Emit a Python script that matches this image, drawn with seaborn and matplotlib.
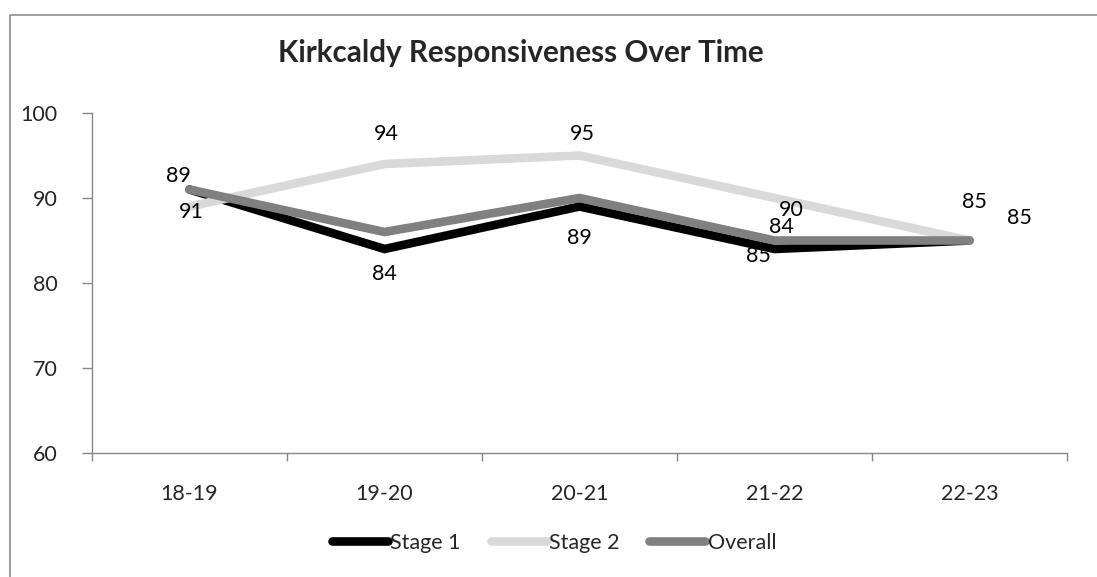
import numpy as np
import pandas as pd
import seaborn as sns
import matplotlib.pyplot as plt
from matplotlib.lines import Line2D

# data
years = ["18-19", "19-20", "20-21", "21-22", "22-23"]
stage1 = [91, 84, 89, 84, 85]
stage2 = [89, 94, 95, 90, 85]
overall = [91, 86, 90, 85, 85]
yticks = [60, 70, 80, 90, 100]

df = pd.DataFrame({"year": years, "Stage 1": stage1, "Stage 2": stage2, "Overall": overall})
long = df.melt(id_vars="year", var_name="series", value_name="score")
long["x"] = long["year"].map({y: i for i, y in enumerate(years)})

colors = {"Stage 1": "#000000", "Stage 2": "#d9d9d9", "Overall": "#808080"}

sns.set_style("white")
plt.rcParams["font.family"] = ["Lato", "DejaVu Sans"]

W, H = 1097, 577
fig = plt.figure(figsize=(W / 100, H / 100), dpi=100)
ax = fig.add_axes([92 / W, 1 - 453 / H, (1067 - 92) / W, (453 - 113) / H])

sns.lineplot(data=long, x="x", y="score", hue="series", palette=colors,
             hue_order=["Stage 1", "Stage 2", "Overall"], linewidth=6.2,
             legend=False, ax=ax, solid_capstyle="round", solid_joinstyle="miter")

# data labels (series, index, pixel offset) roughly where Excel put them
labels = [
    ("Stage 2", 0, -11, 30), ("Stage 1", 0, 2, -23),
    ("Stage 2", 1, 2, 30), ("Stage 1", 1, 0, -25),
    ("Stage 2", 2, 3, 22), ("Stage 1", 2, 0, -31),
    ("Stage 2", 3, 17, -12), ("Stage 1", 3, 7, 22), ("Overall", 3, -16, -15),
    ("Stage 2", 4, 5, 38), ("Stage 1", 4, 50, 23),
]
for s, i, dx, dy in labels:
    v = df[s][i]
    ax.annotate(str(v), (i, v), xytext=(dx, dy), textcoords="offset pixels",
                ha="center", va="center", fontsize=15.5, color="black")

ax.set_xlim(-0.5, len(years) - 0.5)
ax.set_ylim(60, 100)
ax.set_yticks(yticks)
ax.set_xticks(np.arange(-0.5, len(years)), labels=[""] * (len(years) + 1))
ax.set_xticks(range(len(years)), labels=years, minor=True)
ax.tick_params(axis="x", which="major", length=6, width=1, color="#868686", direction="out")
ax.tick_params(axis="x", which="minor", length=0, pad=22, labelsize=15.5)
ax.tick_params(axis="y", length=7, width=1, color="#868686", direction="out", pad=18, labelsize=15.5)
ax.tick_params(left=True, bottom=True)
for side in ["top", "right"]:
    ax.spines[side].set_visible(False)
for side in ["left", "bottom"]:
    ax.spines[side].set_color("#868686")
    ax.spines[side].set_linewidth(1)
ax.set_xlabel("")
ax.set_ylabel("")

fig.text(521 / W, 1 - 53 / H, "Kirkcaldy Responsiveness Over Time", ha="center", va="center",
         fontsize=21.3, fontweight="bold")

handles = [Line2D([], [], color=colors[k], linewidth=6.2, solid_capstyle="round") for k in colors]
fig.legend(handles, list(colors), loc="center", bbox_to_anchor=(554 / W, 1 - 543 / H),
           ncol=3, frameon=False, fontsize=15.5, handlelength=2.6, handletextpad=0.1,
           columnspacing=1.4)

# chart area border (only top and left visible in the crop)
fig.add_artist(Line2D([9.5 / W, 9.5 / W, 1], [0, 1 - 14.5 / H, 1 - 14.5 / H],
                      color="#8c8c8c", linewidth=1.2))

fig.savefig("out.png", dpi=100)
